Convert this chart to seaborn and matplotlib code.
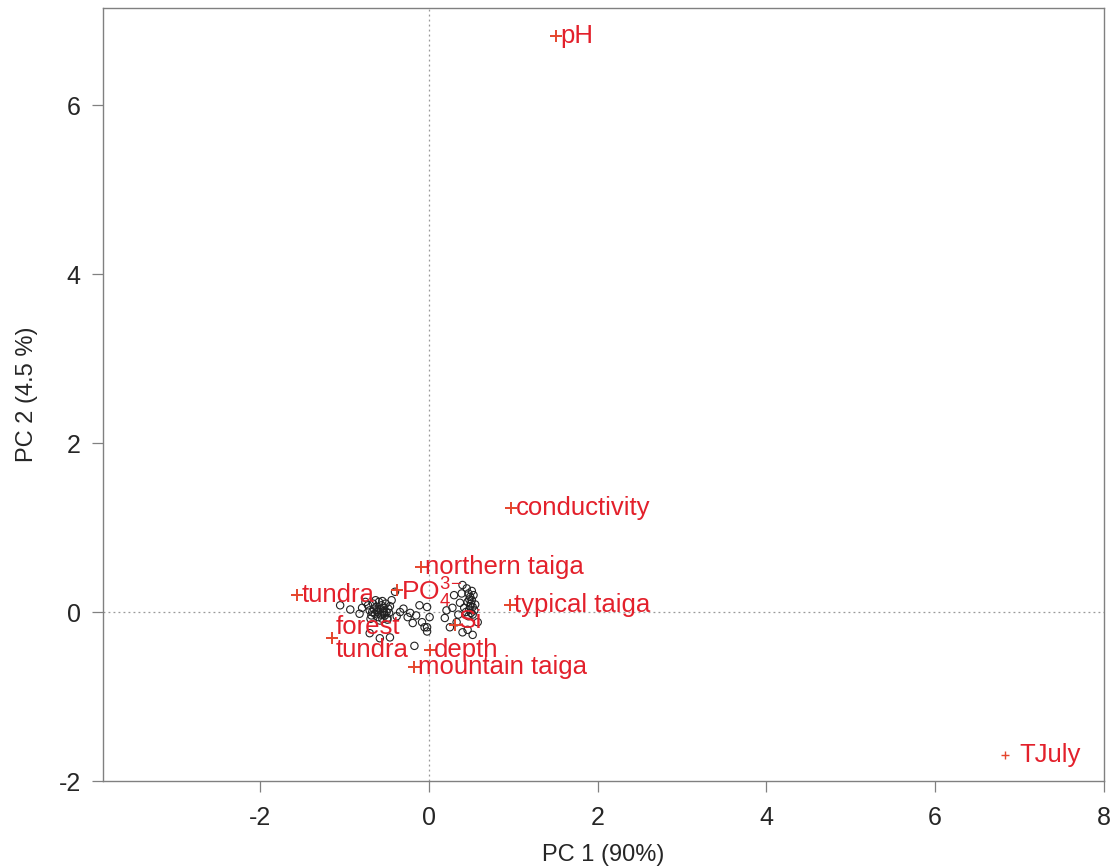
import matplotlib
matplotlib.use("Agg")
import matplotlib.pyplot as plt
import seaborn as sns
import pandas as pd

# Variable / category loadings (red plus markers with labels)
var_labels = ["pH", "conductivity", "northern taiga", "tundra", r"PO$_4^{3\!-}$",
              "typical taiga", "Si", "forest\ntundra", "depth", "mountain taiga", "TJuly"]
var_x = [1.51, 0.98, -0.09, -1.56, -0.38, 0.96, 0.31, -1.15, 0.01, -0.18, 6.83]
var_y = [6.82, 1.23, 0.53, 0.20, 0.26, 0.08, -0.15, -0.31, -0.45, -0.65, -1.69]

# Sample scores (black open circles)
obs_x = [-0.72, -0.70, -0.68, -0.66, -0.65, -0.64, -0.62, -0.61, -0.60, -0.59,
         -0.58, -0.57, -0.56, -0.55, -0.54, -0.53, -0.52, -0.51, -0.50, -0.49,
         -0.48, -0.47, -0.63, -0.69, -0.58, -0.46, -0.67, -0.55, -0.60, -0.53,
         -1.05, -0.93, -0.79, -0.44, -0.40, -0.34, -0.22, -0.11, -0.02, 0.01,
         -0.05, -0.19, -0.70, -0.58, -0.49, -0.30, -0.25, -0.82, -0.75, -0.38,
         -0.15, -0.08, -0.02, -0.17, -0.46, -0.02,
         0.45, 0.47, 0.49, 0.51, 0.50, 0.52, 0.48, 0.50, 0.53, 0.46,
         0.54, 0.47, 0.51, 0.55, 0.49, 0.44, 0.52, 0.48,
         0.39, 0.37, 0.28, 0.19, 0.25, 0.33, 0.40, 0.46, 0.52, 0.21,
         0.35, 0.42, 0.30, 0.58, 0.40]
obs_y = [0.08, 0.02, -0.04, 0.10, 0.04, -0.02, 0.06, 0.00, -0.06, 0.12,
         0.03, -0.03, 0.08, -0.08, 0.01, 0.05, -0.04, 0.10, 0.00, -0.07,
         0.04, -0.01, 0.14, -0.08, -0.10, 0.07, 0.00, 0.13, 0.02, -0.01,
         0.08, 0.03, 0.05, 0.14, 0.24, 0.00, -0.01, 0.08, 0.06, -0.06,
         -0.18, -0.13, -0.25, -0.31, -0.09, 0.04, -0.06, -0.02, 0.12, -0.05,
         -0.04, -0.12, -0.23, -0.40, -0.30, -0.18,
         0.28, 0.22, 0.18, 0.14, 0.10, 0.06, 0.03, -0.01, 0.20, 0.12,
         0.02, -0.05, 0.25, 0.09, 0.07, 0.00, -0.03, 0.15,
         0.22, 0.11, 0.05, -0.07, -0.18, -0.12, -0.24, -0.21, -0.27, 0.02,
         -0.03, 0.05, 0.20, -0.12, 0.32]

x_ticks = [-2, 0, 2, 4, 6, 8]
y_ticks = [-2, 0, 2, 4, 6]

sns.set_theme(style="white")
plt.rcParams['font.family'] = ['Liberation Sans', 'DejaVu Sans']
plt.rcParams['mathtext.default'] = 'regular'

fig = plt.figure(figsize=(11.12, 8.68), dpi=100)
ax = fig.add_axes([0.0926, 0.1002, 0.9002, 0.8906])

ax.axhline(0, color="#999999", lw=0.9, ls=(0, (1.5, 2.5)), zorder=1)
ax.axvline(0, color="#999999", lw=0.9, ls=(0, (1.5, 2.5)), zorder=1)

obs = pd.DataFrame({"x": obs_x, "y": obs_y})
sns.scatterplot(data=obs, x="x", y="y", ax=ax, marker="o", s=28,
                facecolor="none", edgecolor="#222222", linewidth=0.8, zorder=3)

var = pd.DataFrame({"x": var_x, "y": var_y, "label": var_labels})
main = var[var["label"] != "TJuly"]
sns.scatterplot(data=main, x="x", y="y", ax=ax, marker="+", s=85,
                color="#E5452C", linewidth=1.4, zorder=4)
tj = var[var["label"] == "TJuly"]
sns.scatterplot(data=tj, x="x", y="y", ax=ax, marker="+", s=35,
                color="#E5452C", linewidth=1.0, zorder=4)

for _, r in var.iterrows():
    lab = r["label"]
    off = 10 if lab == "TJuly" else 3
    fs = 19 if lab in ("Si", r"PO$_4^{3\!-}$") else 18.5
    dy = {r"PO$_4^{3\!-}$": -2, "Si": 2.5}.get(lab, 0)
    ax.annotate(lab, (r["x"], r["y"]), xytext=(off, dy),
                textcoords="offset points", ha="left", va="center",
                fontsize=fs, color="#E3202B", zorder=5, linespacing=0.95)

ax.set_xlim(-3.86, 8.0)
ax.set_ylim(-2.0, 7.15)
ax.set_xticks(x_ticks)
ax.set_yticks(y_ticks)
ax.set_xticklabels([str(v) for v in x_ticks])
ax.set_yticklabels([str(v) for v in y_ticks])
ax.tick_params(axis="both", which="both", direction="out", length=8, width=0.9,
               color="#808080", labelsize=18, bottom=True, left=True)
ax.tick_params(axis="x", pad=10)
ax.tick_params(axis="y", pad=8)
for s in ax.spines.values():
    s.set_color("#808080")
    s.set_linewidth(1.0)

ax.set_xlabel("PC 1 (90%)", fontsize=17, labelpad=10)
ax.set_ylabel("PC 2 (4.5 %)", fontsize=17, labelpad=15)

fig.savefig("out.png", dpi=100, facecolor="white")
